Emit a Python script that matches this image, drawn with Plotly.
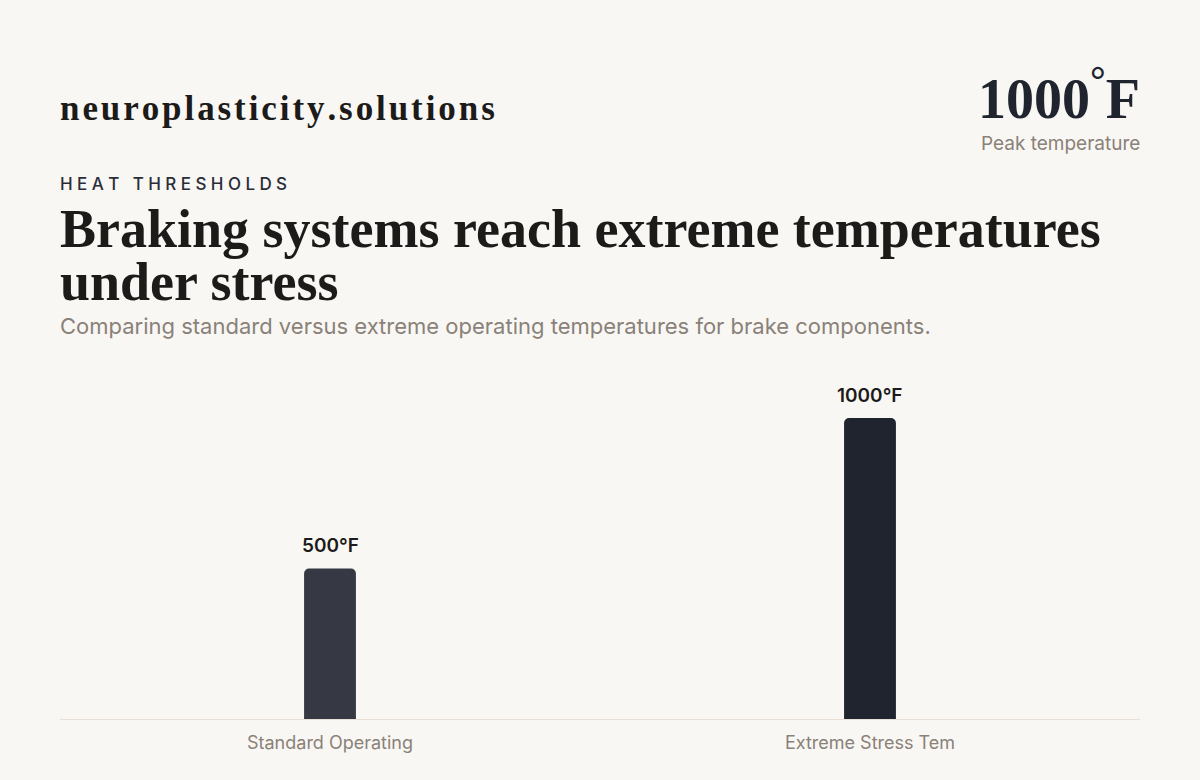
import plotly.graph_objects as go

# chart data
categories = ["Standard Operating", "Extreme Stress Tem"]
temps_f = [500, 1000]
bar_colors = ["#363943", "#20242f"]

brand = "neuroplasticity.solutions"
kicker = "HEAT THRESHOLDS"
title_lines = ["Braking systems reach extreme temperatures", "under stress"]
subtitle = "Comparing standard versus extreme operating temperatures for brake components."
peak_value = "1000"
peak_label = "Peak temperature"

BG = "#f8f7f4"
INK = "#1c1b19"
NAVY = "#20242f"
MUTED = "#8a8178"
SERIF = "Liberation Serif, DejaVu Serif, serif"
SANS = "Inter, Roboto, sans-serif"

fig = go.Figure()
fig.add_trace(go.Bar(
    x=categories,
    y=temps_f,
    width=0.096,
    marker=dict(color=bar_colors, line=dict(width=0)),
    cliponaxis=False,
    hoverinfo="skip",
))

# value labels above the bars
for cat, v in zip(categories, temps_f):
    fig.add_annotation(
        x=cat, y=v, text=f"{v}°F", showarrow=False,
        yanchor="bottom", yshift=9,
        font=dict(family=SANS, size=19, color=INK, weight=600),
    )

fig.update_layout(
    width=1200, height=780,
    paper_bgcolor=BG, plot_bgcolor=BG,
    margin=dict(l=60, r=60, t=380, b=61),
    showlegend=False,
    barcornerradius=5,
    xaxis=dict(
        showgrid=False, zeroline=False,
        showline=True, linecolor="#e8e0d6", linewidth=1,
        ticks="", ticklabelstandoff=7,
        tickfont=dict(family=SANS, size=18, color=MUTED),
        fixedrange=True,
    ),
    yaxis=dict(range=[0, 1126], visible=False, fixedrange=True),
)

def note(text, x, y, size, color, family, xanchor="left", weight=None):
    fig.add_annotation(
        text=text, x=x, y=y, xref="paper", yref="paper",
        xanchor=xanchor, yanchor="middle", showarrow=False,
        xshift=-2 if xanchor == "left" else 2,
        font=dict(family=family, size=size, color=color, weight=weight),
    )

# pixel rows -> paper coords
PT, PH = 380, 339
def py(pix):
    return (PT + PH - pix) / PH

def spaced(s, gap):
    return gap.join(s)

note(spaced(brand, "\u200a"), 0, py(108), 35, INK, SERIF, weight=700)
note(f"{peak_value}<sup>°</sup>F", 1, py(94), 56, NAVY, SERIF, xanchor="right", weight=700)
note(peak_label, 1, py(143), 19, MUTED, SANS, xanchor="right")
note(spaced(kicker, "\u2009\u200a"), 0, py(184), 17, "#2a2d38", SANS, weight=500)
note(title_lines[0], 0, py(229), 54, INK, SERIF, weight=700)
note(title_lines[1], 0, py(282), 54, INK, SERIF, weight=700)
note(subtitle, 0, py(326), 22, MUTED, SANS)

fig.write_html("out.html", config={"displayModeBar": False},
               post_script="document.body.style.margin='0';")
